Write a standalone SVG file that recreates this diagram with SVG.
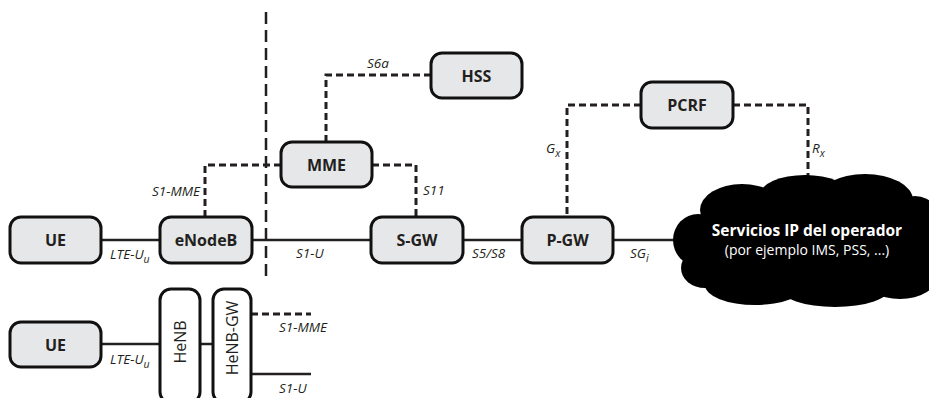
<svg xmlns="http://www.w3.org/2000/svg" width="929" height="398" viewBox="0 0 929 398">
<style>
.box{fill:#e6e7e8;stroke:#111;stroke-width:3}
.wbox{fill:#fff;stroke:#111;stroke-width:3}
.lbl{font-family:"Open Sans","Liberation Sans",sans-serif;font-weight:bold;font-size:16px;fill:#231f20;text-anchor:middle}
.vl{font-family:"Open Sans","Liberation Sans",sans-serif;font-size:16px;fill:#231f20;text-anchor:middle}
.it{font-family:"Open Sans","Liberation Sans",sans-serif;font-style:italic;font-size:13.5px;fill:#231f20}
.sub{font-size:10.5px}
.solid{fill:none;stroke:#231f20;stroke-width:2.5}
.dash{fill:none;stroke:#231f20;stroke-width:3;stroke-dasharray:7 4}
.ldash{fill:none;stroke:#231f20;stroke-width:2.5;stroke-dasharray:12 6}
</style>
<rect width="929" height="398" fill="#fff"/>
<g id="connectors">
<line class="ldash" x1="266" y1="12" x2="266" y2="282"/>
<line class="solid" x1="101" y1="240" x2="160" y2="240"/>
<line class="solid" x1="252" y1="240" x2="371" y2="240"/>
<line class="solid" x1="463" y1="240" x2="522" y2="240"/>
<line class="solid" x1="613" y1="240" x2="678" y2="240"/>
<polyline class="dash" points="281,165 205,165 205,217"/>
<polyline class="dash" points="372,165 416,165 416,217"/>
<polyline class="dash" points="431,75 326,75 326,142"/>
<polyline class="dash" points="641,105 567,105 567,217"/>
<polyline class="dash" points="733,105 808,105 808,182"/>
<line class="solid" x1="101" y1="344" x2="160" y2="344"/>
<line class="solid" x1="200" y1="344" x2="213" y2="344"/>
<line class="dash" x1="251" y1="314" x2="311" y2="314"/>
<line class="solid" x1="251" y1="374" x2="311" y2="374"/>
<text class="it" x="110" y="259">LTE-U<tspan class="sub" dy="4">u</tspan></text>
<text class="it" x="200" y="196" text-anchor="end">S1-MME</text>
<text class="it" x="296" y="258">S1-U</text>
<text class="it" x="367" y="68">S6a</text>
<text class="it" x="423" y="195">S11</text>
<text class="it" x="472" y="258">S5/S8</text>
<text class="it" x="630" y="258">SG<tspan class="sub" dy="4">i</tspan></text>
<text class="it" x="546" y="153">G<tspan class="sub" dy="4">x</tspan></text>
<text class="it" x="812" y="153">R<tspan class="sub" dy="4">x</tspan></text>
<text class="it" x="110" y="364">LTE-U<tspan class="sub" dy="4">u</tspan></text>
<text class="it" x="279" y="332">S1-MME</text>
<text class="it" x="279" y="393">S1-U</text>
</g>
<g id="ue1"><rect class="box" x="10" y="217" width="91" height="46" rx="11"/><text class="lbl" x="55.5" y="246">UE</text></g>
<g id="enodeb"><rect class="box" x="160" y="217" width="92" height="46" rx="11"/><text class="lbl" x="206" y="246">eNodeB</text></g>
<g id="mme"><rect class="box" x="281" y="142" width="91" height="45" rx="11"/><text class="lbl" x="326.5" y="170.5">MME</text></g>
<g id="hss"><rect class="box" x="431" y="53" width="91" height="45" rx="11"/><text class="lbl" x="476.5" y="81.5">HSS</text></g>
<g id="sgw"><rect class="box" x="371" y="217" width="92" height="46" rx="11"/><text class="lbl" x="417" y="246">S-GW</text></g>
<g id="pgw"><rect class="box" x="522" y="217" width="91" height="46" rx="11"/><text class="lbl" x="567.5" y="246">P-GW</text></g>
<g id="pcrf"><rect class="box" x="641" y="82" width="92" height="46" rx="11"/><text class="lbl" x="687" y="111">PCRF</text></g>
<g id="cloud">
<g fill="#000">
<ellipse cx="810" cy="245" rx="115" ry="52"/>
<ellipse cx="698" cy="240" rx="25" ry="26"/>
<ellipse cx="742" cy="210" rx="42" ry="26"/>
<ellipse cx="805" cy="195" rx="45" ry="20"/>
<ellipse cx="865" cy="200" rx="48" ry="26"/>
<ellipse cx="915" cy="232" rx="30" ry="36"/>
<ellipse cx="900" cy="275" rx="38" ry="24"/>
<ellipse cx="835" cy="288" rx="55" ry="19"/>
<ellipse cx="755" cy="285" rx="50" ry="20"/>
<ellipse cx="705" cy="268" rx="24" ry="20"/>
</g>
<text x="807" y="236" text-anchor="middle" font-family="Open Sans, Liberation Sans, sans-serif" font-weight="bold" font-size="15.5" fill="#fff">Servicios IP del operador</text>
<text x="807" y="255" text-anchor="middle" font-family="Open Sans, Liberation Sans, sans-serif" font-size="14" fill="#fff">(por ejemplo IMS, PSS, ...)</text>
</g>
<g id="ue2"><rect class="box" x="10" y="322" width="91" height="45" rx="11"/><text class="lbl" x="55.5" y="350.5">UE</text></g>
<g id="henb"><rect class="wbox" x="160" y="289" width="40" height="114" rx="11"/><text class="vl" transform="translate(186,342) rotate(-90)">HeNB</text></g>
<g id="henbgw"><rect class="wbox" x="213" y="289" width="38" height="114" rx="11"/><text class="vl" transform="translate(238,338) rotate(-90)">HeNB-GW</text></g>
</svg>
